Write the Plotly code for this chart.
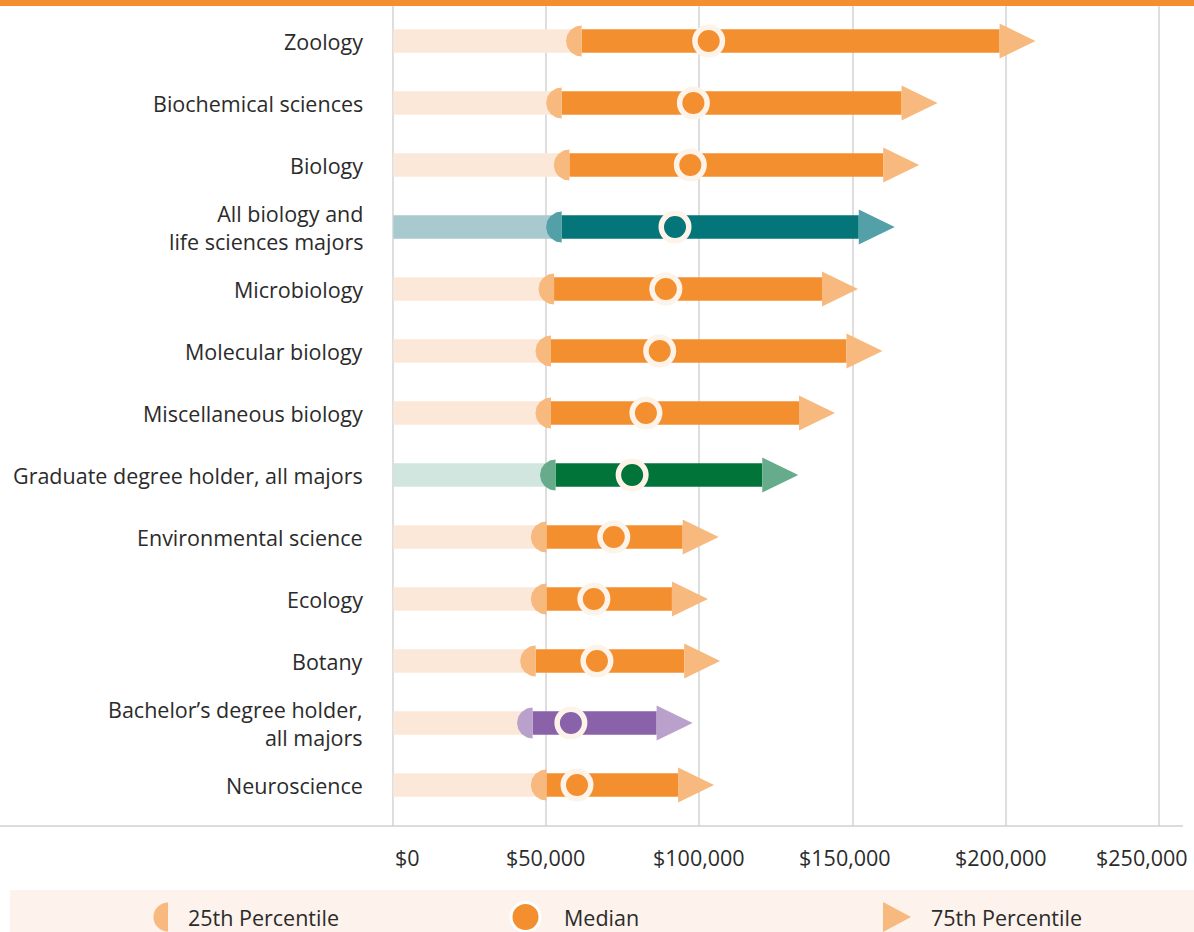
import numpy as np
import plotly.graph_objects as go

# ---- data -------------------------------------------------------------
majors = [
    "Zoology",
    "Biochemical sciences",
    "Biology",
    "All biology and<br>life sciences majors",
    "Microbiology",
    "Molecular biology",
    "Miscellaneous biology",
    "Graduate degree holder, all majors",
    "Environmental science",
    "Ecology",
    "Botany",
    "Bachelor’s degree holder,<br>all majors",
    "Neuroscience",
]
p25 = [61500, 55000, 57500, 55000, 52500, 51500, 51500, 53000, 50000, 50000, 46500, 45500, 50000]
median = [103000, 98000, 97000, 92000, 89000, 87000, 82500, 78000, 72000, 65500, 66500, 58000, 60000]
p75 = [198000, 166000, 160000, 152000, 140000, 148000, 132500, 120500, 94500, 91000, 95000, 86000, 93000]
group = ["field", "field", "field", "all_bio", "field", "field", "field",
         "graduate", "field", "field", "field", "bachelor", "field"]

x_ticks = [0, 50000, 100000, 150000, 200000, 250000]
x_tick_labels = ["$0", "$50,000", "$100,000", "$150,000", "$200,000", "$250,000"]
legend_labels = ["25th Percentile", "Median", "75th Percentile"]

# ---- styling ----------------------------------------------------------
# (light bar, percentile-25 cap / arrow head, main bar)
palette = {
    "field":    ("#FBE8D8", "#F8B97F", "#F48F30"),
    "all_bio":  ("#A8C9CD", "#53A0A8", "#047579"),
    "graduate": ("#D0E6DE", "#66AC8A", "#017439"),
    "bachelor": ("#FBE8D8", "#B9A1CB", "#8A62AA"),
}
CREAM = "#FDF3E9"
TEXT = "#2B2B2B"
FONT = "Open Sans"
FONT_SIZE = 21.5

W, H = 1194, 932
X0_PX = 393.3            # pixel of $0
PX_PER_USD = 153.1 / 50000
ROW0_PX, ROW_PX = 41, 62
PLOT_TOP, PLOT_BOTTOM, PLOT_RIGHT = 6, 826, 1183

x_min = -1500
x_max = (PLOT_RIGHT - X0_PX) / PX_PER_USD
dom_left = (X0_PX + x_min * PX_PER_USD) / W
y_top = -(ROW0_PX - PLOT_TOP) / ROW_PX
y_bottom = (PLOT_BOTTOM - ROW0_PX) / ROW_PX

usd_per_px = 1 / PX_PER_USD
row_per_px = 1 / ROW_PX

BAR_PX = 23.5
CAP_R_PX = 15.5
ARROW_W_PX, ARROW_HALF_PX = 36, 17.5


def fx(px):
    return px / W


def fy(py):
    return 1 - py / H


rows = list(range(len(majors)))
fig = go.Figure()

# light bar from $0 to the 25th percentile
fig.add_trace(go.Bar(
    y=rows, x=p25, base=0, orientation="h", width=BAR_PX * row_per_px,
    marker=dict(color=[palette[g][0] for g in group], line_width=0),
    hoverinfo="skip", showlegend=False,
))
# main bar from the 25th to the 75th percentile
fig.add_trace(go.Bar(
    y=rows, x=[b - a for a, b in zip(p25, p75)], base=p25, orientation="h",
    width=BAR_PX * row_per_px,
    marker=dict(color=[palette[g][2] for g in group], line_width=0),
    hoverinfo="skip", showlegend=False,
))

# half-disc cap at the 25th percentile and arrow head at the 75th
theta = np.linspace(np.pi / 2, 3 * np.pi / 2, 40)
for i, g in enumerate(group):
    cx = p25[i] + CAP_R_PX * usd_per_px * np.cos(theta)
    cy = i - CAP_R_PX * row_per_px * np.sin(theta)
    fig.add_trace(go.Scatter(
        x=list(cx), y=list(cy), mode="lines", fill="toself",
        fillcolor=palette[g][1], line=dict(width=0), hoverinfo="skip", showlegend=False,
    ))
    tx = [p75[i], p75[i] + ARROW_W_PX * usd_per_px, p75[i]]
    ty = [i - ARROW_HALF_PX * row_per_px, i, i + ARROW_HALF_PX * row_per_px]
    fig.add_trace(go.Scatter(
        x=tx, y=ty, mode="lines", fill="toself",
        fillcolor=palette[g][1], line=dict(width=0), hoverinfo="skip", showlegend=False,
    ))

# median dots
fig.add_trace(go.Scatter(
    x=median, y=rows, mode="markers",
    marker=dict(size=27.5, color=[palette[g][2] for g in group],
                line=dict(color=CREAM, width=5.5)),
    hoverinfo="skip", showlegend=False,
))

annotations = []
# category labels
for i, name in enumerate(majors):
    annotations.append(dict(
        xref="paper", yref="y", x=fx(365), y=i, xanchor="right", yanchor="middle",
        text=name, align="right", showarrow=False,
        font=dict(family=FONT, size=FONT_SIZE, color=TEXT),
    ))
# x tick labels
tick_shift = [14, -1, 0, -8, -5, -17]
for t, lab, s in zip(x_ticks, x_tick_labels, tick_shift):
    annotations.append(dict(
        xref="x", yref="paper", x=t, y=fy(857), xanchor="center", yanchor="middle",
        xshift=s, text=lab, showarrow=False,
        font=dict(family=FONT, size=FONT_SIZE, color=TEXT),
    ))
# legend labels
for lx, lab in zip([186, 562, 929], legend_labels):
    annotations.append(dict(
        xref="paper", yref="paper", x=fx(lx), y=fy(917), xanchor="left", yanchor="middle",
        text=lab, showarrow=False, font=dict(family=FONT, size=FONT_SIZE, color=TEXT),
    ))

shapes = [
    # top rule
    dict(type="rect", xref="paper", yref="paper", x0=0, x1=1, y0=fy(6), y1=1,
         fillcolor="#F48F30", line_width=0, layer="above"),
    # baseline
    dict(type="line", xref="paper", yref="paper", x0=0, x1=fx(PLOT_RIGHT),
         y0=fy(826), y1=fy(826), line=dict(color="#D0D0D0", width=1.5)),
    # legend band
    dict(type="rect", xref="paper", yref="paper", x0=fx(10), x1=1, y0=0, y1=fy(890),
         fillcolor="#FDF2EC", line_width=0, layer="below"),
]

# legend symbols
lc_x, lc_y, lr = 168, 917, 14.5
pts = [(lc_x + lr * np.cos(t), lc_y - lr * np.sin(t)) for t in theta]
path = "M " + " L ".join(f"{fx(px):.5f},{fy(py):.5f}" for px, py in pts) + " Z"
shapes.append(dict(type="path", xref="paper", yref="paper", path=path,
                   fillcolor="#F8B97F", line_width=0))
mr = 14.5
shapes.append(dict(type="circle", xref="paper", yref="paper",
                   x0=fx(525.5 - mr), x1=fx(525.5 + mr), y0=fy(917 + mr), y1=fy(917 - mr),
                   fillcolor="#F48F30", line=dict(color="white", width=3)))
tri = [(883, 902), (911, 917), (883, 932)]
path = "M " + " L ".join(f"{fx(px):.5f},{fy(py):.5f}" for px, py in tri) + " Z"
shapes.append(dict(type="path", xref="paper", yref="paper", path=path,
                   fillcolor="#F8B97F", line_width=0))

fig.update_layout(
    width=W, height=H,
    margin=dict(l=0, r=0, t=0, b=0),
    paper_bgcolor="white", plot_bgcolor="white",
    barmode="overlay",
    xaxis=dict(
        domain=[dom_left, PLOT_RIGHT / W], range=[x_min, x_max],
        tickmode="array", tickvals=x_ticks, showticklabels=False, ticks="",
        showgrid=True, gridcolor="#DEDEDE", gridwidth=1.5,
        zeroline=False, showline=False, fixedrange=True,
    ),
    yaxis=dict(
        domain=[1 - PLOT_BOTTOM / H, 1 - PLOT_TOP / H], range=[y_bottom, y_top],
        showgrid=False, zeroline=False, showticklabels=False, showline=False,
        ticks="", fixedrange=True,
    ),
    annotations=annotations,
    shapes=shapes,
    showlegend=False,
)

fig.write_html("out.html")
